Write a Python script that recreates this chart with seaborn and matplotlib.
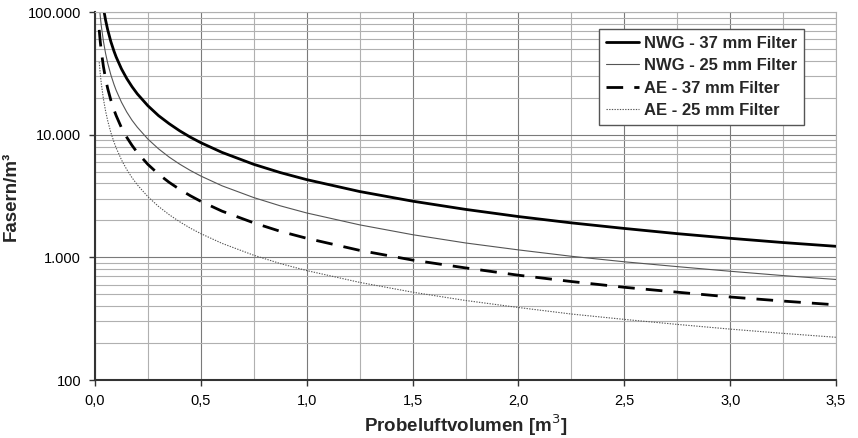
import matplotlib
matplotlib.use('Agg')
import matplotlib.pyplot as plt
import matplotlib.ticker as mticker
import numpy as np
import pandas as pd
import seaborn as sns

# sampling volumes (m3) and readings taken off the chart
volume = [0.02, 0.025, 0.03, 0.04, 0.05, 0.06, 0.075, 0.09, 0.1, 0.125, 0.15,
          0.175, 0.2, 0.25, 0.3, 0.35, 0.4, 0.45, 0.5, 0.6, 0.75, 0.875, 1.0,
          1.25, 1.5, 1.75, 2.0, 2.25, 2.5, 2.75, 3.0, 3.25, 3.5]

nwg_37 = [215000, 172000, 143000, 107500, 86000, 71700, 57300, 47800, 43000,
          34400, 28700, 24600, 21500, 17200, 14300, 12300, 10750, 9550,
          8600, 7170, 5730, 4910, 4300, 3440, 2870, 2460, 2150, 1910, 1720,
          1560, 1430, 1320, 1230]
nwg_25 = [115000, 92000, 76700, 57500, 46000, 38300, 30700, 25600, 23000,
          18400, 15300, 13100, 11500, 9200, 7670, 6570, 5750, 5110,
          4600, 3830, 3070, 2630, 2300, 1840, 1530, 1310, 1150, 1020, 920,
          840, 770, 710, 660]
ae_37 = [71500, 57200, 47700, 35800, 28600, 23800, 19100, 15900, 14300,
         11400, 9530, 8170, 7150, 5720, 4770, 4090, 3580, 3180,
         2860, 2380, 1910, 1630, 1430, 1140, 950, 820, 715, 635, 570,
         520, 475, 440, 410]
ae_25 = [39000, 31200, 26000, 19500, 15600, 13000, 10400, 8670, 7800,
         6240, 5200, 4460, 3900, 3120, 2600, 2230, 1950, 1730,
         1560, 1300, 1040, 890, 780, 625, 520, 445, 390, 345, 312,
         284, 260, 240, 223]

series_names = ['NWG - 37 mm Filter', 'NWG - 25 mm Filter',
                'AE - 37 mm Filter', 'AE - 25 mm Filter']
series_values = [nwg_37, nwg_25, ae_37, ae_25]

x_ticks = [0.0, 0.5, 1.0, 1.5, 2.0, 2.5, 3.0, 3.5]
y_ticks = [100, 1000, 10000, 100000]
y_tick_labels = ['100', '1.000', '10.000', '100.000']

styles = {
    'NWG - 37 mm Filter': dict(color='black', linewidth=2.0, linestyle='-'),
    'NWG - 25 mm Filter': dict(color='#555555', linewidth=0.8, linestyle='-'),
    'AE - 37 mm Filter': dict(color='black', linewidth=2.0, linestyle=(0, (6, 4))),
    'AE - 25 mm Filter': dict(color='#555555', linewidth=0.8, linestyle=(0, (1.2, 1.2))),
}

sns.set_theme(style='white')
plt.rcParams['font.family'] = ['Liberation Sans', 'DejaVu Sans']

fig = plt.figure(figsize=(8.58, 4.38), dpi=100)
ax = fig.add_axes([0.1107, 0.1324, 0.8637, 0.8402])

for name, values in zip(series_names, series_values):
    df = pd.DataFrame({'volume': volume, 'fasern': values})
    sns.lineplot(data=df, x='volume', y='fasern', ax=ax, label=name,
                 **styles[name])

ax.set_yscale('log')
ax.set_xlim(0, 3.5)
ax.set_ylim(100, 100000)

ax.set_xticks(x_ticks)
ax.set_xticklabels([f'{t:.1f}'.replace('.', ',') for t in x_ticks], fontsize=10.5)
ax.set_yticks(y_ticks)
ax.set_yticklabels(y_tick_labels, fontsize=10.5)
ax.xaxis.set_minor_locator(mticker.MultipleLocator(0.25))
ax.yaxis.set_minor_locator(mticker.LogLocator(base=10, subs=np.arange(2, 10)))
ax.yaxis.set_minor_formatter(mticker.NullFormatter())

ax.grid(which='major', axis='both', color='#7a7a7a', linewidth=0.8)
ax.grid(which='minor', axis='both', color='#b0b0b0', linewidth=0.8)
ax.set_axisbelow(True)

ax.tick_params(axis='both', which='major', direction='out', length=4, width=1,
               color='#333333', labelcolor='black', pad=6, bottom=True, left=True)
ax.tick_params(axis='both', which='minor', length=0)

for side in ['left', 'bottom']:
    ax.spines[side].set_color('#333333')
    ax.spines[side].set_linewidth(1.5)
for side in ['top', 'right']:
    ax.spines[side].set_color('#b0b0b0')
    ax.spines[side].set_linewidth(0.8)

ax.set_xlabel('Probeluftvolumen [m$^3$]', fontsize=13.5, fontweight='bold', labelpad=3)
ax.set_ylabel('Fasern/m³', fontsize=13.5, fontweight='bold', labelpad=6)

leg = ax.legend(loc='upper right', bbox_to_anchor=(0.957, 0.954), frameon=True,
                fancybox=False, edgecolor='#555555', framealpha=1,
                prop={'weight': 'bold', 'size': 12}, handlelength=2.0,
                handletextpad=0.3, borderpad=0.4, labelspacing=0.45,
                borderaxespad=0)
leg.get_frame().set_linewidth(1.0)

fig.savefig('out.png', dpi=100)
plt.close(fig)
